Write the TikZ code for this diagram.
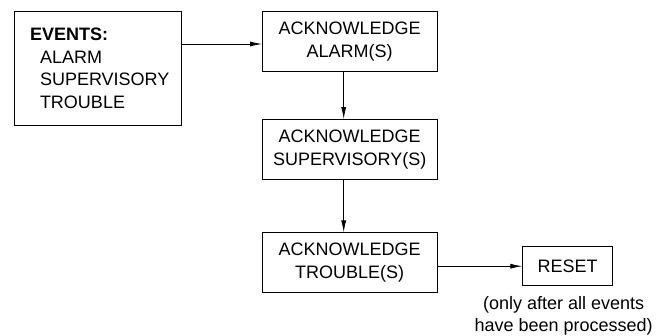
\documentclass[tikz,border=0pt]{standalone}
\usepackage{fontspec}
\setmainfont{Liberation Sans}
\usetikzlibrary{arrows.meta, positioning}

\begin{document}
\begin{tikzpicture}[x=1pt, y=-1pt,
		font=\fontsize{18}{23}\selectfont,
		blocco/.style={draw, line width=0.8pt, minimum width=174.5pt, minimum height=60pt, align=center, inner sep=0pt},
		freccia/.style={line width=0.8pt, -{Latex[length=12pt, width=5pt]}}]
		\useasboundingbox (0, 0) rectangle (672, 335);

		\coordinate (c_ev) at (97.85, 68.35);
		\coordinate (c_ala) at (349.7, 41.3);
		\coordinate (c_sup) at (349.7, 149.5);
		\coordinate (c_tro) at (349.7, 262.8);
		\coordinate (c_res) at (567.7, 266.2);

		% blocchi
		\node[draw, line width=0.8pt, minimum width=167.7pt, minimum height=113.3pt, text width=151.7pt, inner xsep=8pt, align=left,
			font=\fontsize{18}{22.4}\selectfont] (ev) at (c_ev)
			{\hspace*{8pt}\textbf{EVENTS:}\\\hspace*{18pt}ALARM\\\hspace*{18pt}SUPERVISORY\\\hspace*{18pt}TROUBLE};
		\node[blocco] (ala) at (c_ala) {ACKNOWLEDGE\\ALARM(S)};
		\node[blocco] (sup) at (c_sup) {ACKNOWLEDGE\\SUPERVISORY(S)};
		\node[blocco] (tro) at (c_tro) {ACKNOWLEDGE\\TROUBLE(S)};
		\node[draw, line width=0.8pt, minimum width=90pt, minimum height=39pt, inner sep=0pt] (res) at (c_res) {RESET};
		\node[below=10pt of res, xshift=-4pt, align=center, font=\fontsize{18}{22}\selectfont, inner sep=0pt] (nota)
			{(only after all events\\have been processed)};

		% frecce
		\draw[freccia] ([yshift=-2.7pt]ala.west -| ev.east) -- ([yshift=-2.7pt]ala.west);
		\draw[freccia] ([xshift=-6pt]ala.south) -- ([xshift=-6pt]sup.north);
		\draw[freccia] ([xshift=-6pt]sup.south) -- ([xshift=-6pt]tro.north);
		\draw[freccia] (tro.east |- res.west) -- (res.west);
	\end{tikzpicture}
\end{document}
